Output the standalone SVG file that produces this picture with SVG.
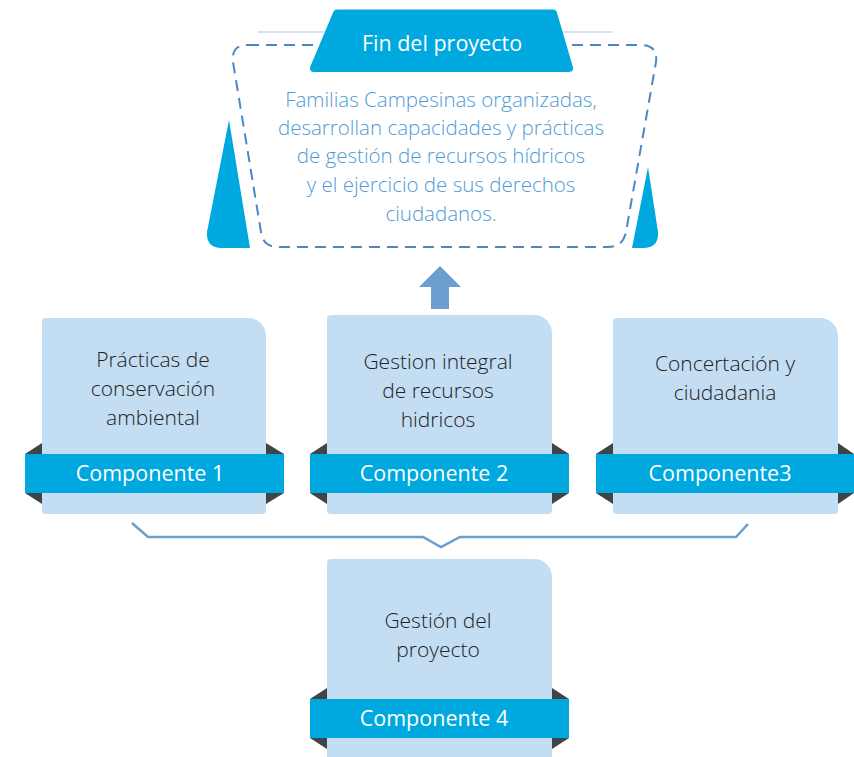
<svg xmlns="http://www.w3.org/2000/svg" width="854" height="757" viewBox="0 0 854 757">
<style>
.box{fill:#c3ddf3}
.band{fill:#00a8e0}
.fold{fill:#3d4548}
.txt{font-family:"Open Sans","Noto Sans",sans-serif;font-size:21px;font-weight:300;fill:#222222;text-anchor:middle}
.btxt{font-family:"Open Sans","Noto Sans",sans-serif;font-size:21.5px;fill:#ffffff;text-anchor:middle}
.gtxt{font-family:"Open Sans","Noto Sans",sans-serif;font-size:20.5px;font-weight:300;fill:#4f9bd6;text-anchor:middle}
</style>
<rect width="854" height="757" fill="#ffffff"/>
<g id="fin">
<line x1="258" y1="32" x2="613" y2="32" stroke="#a9cbe8" stroke-width="1"/>
<path d="M229,120 L250,248 H222 Q206,248 207,232 Z" fill="#00a8e0"/>
<path d="M648,167 L658,232 Q659,248 643,248 H632 Z" fill="#00a8e0"/>
<path d="M248,45 H641 Q658,45 656,62 L626,232 Q623,247 608,247 H278 Q263,247 261,232 L233,62 Q231,45 248,45 Z" fill="none" stroke="#4a88c6" stroke-width="2" stroke-dasharray="11,7"/>
<polygon points="337,13.5 553,13.5 569,68 314,68" fill="#00a8e0" stroke="#00a8e0" stroke-width="8" stroke-linejoin="round"/>
<text class="btxt" x="442" y="51">Fin del proyecto</text>
<text class="gtxt" x="441" y="107">Familias Campesinas organizadas,</text>
<text class="gtxt" x="441" y="135">desarrollan capacidades y prácticas</text>
<text class="gtxt" x="441" y="163">de gestión de recursos hídricos</text>
<text class="gtxt" x="441" y="192">y el ejercicio de sus derechos</text>
<text class="gtxt" x="441" y="221">ciudadanos.</text>
</g>
<g id="connectors">
<polygon points="440,266 461,287 449,287 449,309 431,309 431,287 419,287" fill="#6a9fd0"/>
<polyline points="132,523 148,537 423,537 441,547 460,537 736,537 748,524" fill="none" stroke="#6a9fd0" stroke-width="2.5"/>
</g>
<g id="comp1">
<path class="box" d="M46,318 H248 A18,18 0 0 1 266,336 V510 Q266,514 262,514 H46 Q42,514 42,510 V322 Q42,318 46,318 Z"/>
<polygon class="fold" points="42,443 25,454 42,454"/>
<polygon class="fold" points="42,504 25,493 42,493"/>
<polygon class="fold" points="266,443 284,454 266,454"/>
<polygon class="fold" points="266,504 284,493 266,493"/>
<rect class="band" x="25" y="454" width="259" height="39"/>
<text class="txt" x="153" y="367">Prácticas de</text>
<text class="txt" x="153" y="396">conservación</text>
<text class="txt" x="153" y="425">ambiental</text>
<text class="btxt" x="150" y="481">Componente 1</text>
</g>
<g id="comp2">
<path class="box" d="M331,315 H534 A18,18 0 0 1 552,333 V510 Q552,514 548,514 H331 Q327,514 327,510 V319 Q327,315 331,315 Z"/>
<polygon class="fold" points="327,443 310,454 327,454"/>
<polygon class="fold" points="327,504 310,493 327,493"/>
<polygon class="fold" points="552,443 569,454 552,454"/>
<polygon class="fold" points="552,504 569,493 552,493"/>
<rect class="band" x="310" y="454" width="259" height="39"/>
<text class="txt" x="438" y="369">Gestion integral</text>
<text class="txt" x="438" y="398">de recursos</text>
<text class="txt" x="438" y="427">hidricos</text>
<text class="btxt" x="434" y="481">Componente 2</text>
</g>
<g id="comp3">
<path class="box" d="M617,318 H820 A18,18 0 0 1 838,336 V510 Q838,514 834,514 H617 Q613,514 613,510 V322 Q613,318 617,318 Z"/>
<polygon class="fold" points="613,443 596,454 613,454"/>
<polygon class="fold" points="613,504 596,493 613,493"/>
<polygon class="fold" points="838,443 854,454 838,454"/>
<polygon class="fold" points="838,504 854,493 838,493"/>
<rect class="band" x="596" y="454" width="258" height="39"/>
<text class="txt" x="725" y="371">Concertación y</text>
<text class="txt" x="725" y="400">ciudadania</text>
<text class="btxt" x="720" y="481">Componente3</text>
</g>
<g id="comp4">
<path class="box" d="M331,559 H534 A18,18 0 0 1 552,577 V757 H327 V563 Q327,559 331,559 Z"/>
<polygon class="fold" points="327,688 310,699 327,699"/>
<polygon class="fold" points="327,749 310,738 327,738"/>
<polygon class="fold" points="552,688 569,699 552,699"/>
<polygon class="fold" points="552,749 569,738 552,738"/>
<rect class="band" x="310" y="699" width="259" height="39"/>
<text class="txt" x="438" y="628">Gestión del</text>
<text class="txt" x="438" y="657">proyecto</text>
<text class="btxt" x="434" y="726">Componente 4</text>
</g>
</svg>
